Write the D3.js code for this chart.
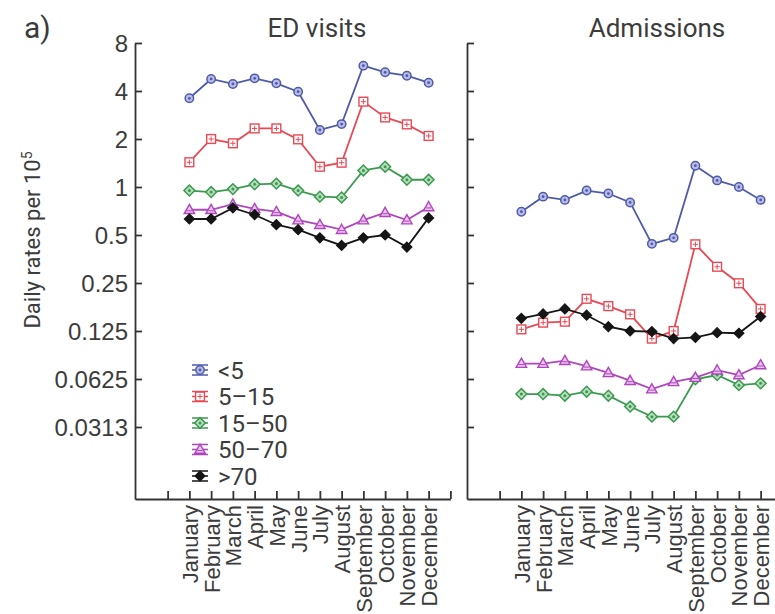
<!DOCTYPE html>
<html>
<head>
<meta charset="utf-8">
<script src="https://cdn.jsdelivr.net/npm/d3@7"></script>
<style>
  html, body { margin: 0; padding: 0; background: #fff; }
  svg { display: block; font-family: Roboto, "DejaVu Sans", sans-serif; }
</style>
</head>
<body>
<svg id="chart" width="775" height="614"></svg>
<script>
// Month labels and age groups
const months = ["January", "February", "March", "April", "May", "June",
  "July", "August", "September", "October", "November", "December"];
const ageGroups = ["<5", "5–15", "15–50", "50–70", ">70"];

// Log2 axis ticks
const yTickValues = [8, 4, 2, 1, 0.5, 0.25, 0.125, 0.0625, 0.03125];
const yTickLabels = ["8", "4", "2", "1", "0.5", "0.25", "0.125", "0.0625", "0.0313"];

// ED visits, daily rates per 10^5, by age group
const edUnder5  = [3.60, 4.76, 4.43, 4.80, 4.47, 3.96, 2.28, 2.48, 5.77, 5.24, 4.99, 4.51];
const ed5to15   = [1.43, 2.00, 1.88, 2.33, 2.33, 1.99, 1.34, 1.42, 3.43, 2.73, 2.47, 2.09];
const ed15to50  = [0.95, 0.93, 0.97, 1.04, 1.05, 0.95, 0.87, 0.86, 1.27, 1.34, 1.11, 1.11];
const ed50to70  = [0.72, 0.72, 0.78, 0.73, 0.70, 0.62, 0.58, 0.54, 0.62, 0.69, 0.62, 0.75];
const edOver70  = [0.63, 0.63, 0.74, 0.67, 0.58, 0.54, 0.48, 0.43, 0.48, 0.50, 0.42, 0.64];

// Admissions, daily rates per 10^5, by age group
const admUnder5 = [0.70, 0.87, 0.83, 0.95, 0.91, 0.80, 0.44, 0.48, 1.36, 1.10, 1.00, 0.83];
const adm5to15  = [0.128, 0.141, 0.143, 0.199, 0.179, 0.159, 0.112, 0.125, 0.437, 0.316, 0.249, 0.172];
const adm15to50 = [0.0503, 0.0503, 0.0491, 0.052, 0.0491, 0.042, 0.0363, 0.0363, 0.0622, 0.0662, 0.0572, 0.0587];
const adm50to70 = [0.0781, 0.0781, 0.0814, 0.0753, 0.0683, 0.061, 0.054, 0.060, 0.0638, 0.071, 0.0662, 0.0765];
const admOver70 = [0.150, 0.160, 0.172, 0.157, 0.133, 0.125, 0.124, 0.112, 0.114, 0.122, 0.121, 0.154];

const seriesColors = ["#4f5aab", "#e84a55", "#3b9a4e", "#b046bd", "#151515"];
const markerFills  = ["#b9bde6", "#ffffff", "#b8ddbf", "#ffffff", "#151515"];
const markerTypes  = ["circle", "square", "diamond", "triangle", "filledDiamond"];

const panels = [
  { title: "ED visits",  series: [edUnder5, ed5to15, ed15to50, ed50to70, edOver70],
    left: 135, showLabels: true, titleX: 317 },
  { title: "Admissions", series: [admUnder5, adm5to15, adm15to50, adm50to70, admOver70],
    left: 467, showLabels: false, titleX: 657 }
];

const svg = d3.select("#chart");
const axisColor = "#333";
const textColor = "#3c3c3c";
const plotTop = 43, plotBottom = 499, step = 21.75;

const y = d3.scaleLog().base(2).domain([Math.pow(2, -6.5), 8]).range([plotBottom, plotTop]);

function drawMarker(g, type, color, fill, cx, cy) {
  const m = g.append("g").attr("transform", `translate(${cx},${cy})`);
  if (type === "circle") {
    m.append("circle").attr("r", 4.2).attr("fill", fill).attr("stroke", color).attr("stroke-width", 1.5);
    m.append("circle").attr("r", 1.4).attr("fill", color);
  } else if (type === "square") {
    m.append("rect").attr("x", -4.4).attr("y", -4.4).attr("width", 8.8).attr("height", 8.8)
      .attr("fill", fill).attr("stroke", color).attr("stroke-width", 1.4);
    m.append("path").attr("d", "M-2.6,0H2.6M0,-2.6V2.6").attr("stroke", color).attr("stroke-width", 1);
  } else if (type === "diamond") {
    m.append("path").attr("d", "M0,-5.4L5.4,0L0,5.4L-5.4,0Z")
      .attr("fill", fill).attr("stroke", color).attr("stroke-width", 1.5);
    m.append("circle").attr("r", 1.5).attr("fill", color);
  } else if (type === "triangle") {
    m.append("path").attr("d", "M0,-5.4L5.2,3.8L-5.2,3.8Z")
      .attr("fill", "#e9c6ef").attr("stroke", color).attr("stroke-width", 1.4);
    m.append("path").attr("d", "M-2.6,1H2.6").attr("stroke", color).attr("stroke-width", 1);
  } else {
    m.append("path").attr("d", "M0,-5L5,0L0,5L-5,0Z")
      .attr("fill", fill).attr("stroke", color).attr("stroke-width", 1.2);
  }
}

panels.forEach(p => {
  const x = d3.scaleLinear().domain([-1.5, 13]).range([p.left, p.left + 14.5 * step]);
  const g = svg.append("g");

  // y axis, ticks pointing inward
  const yAxis = d3.axisLeft(y).tickValues(yTickValues)
    .tickSizeInner(-7).tickSizeOuter(0).tickPadding(7)
    .tickFormat((d, i) => p.showLabels ? yTickLabels[i] : "");
  const ya = g.append("g").attr("transform", `translate(${p.left},0)`).call(yAxis);
  ya.select(".domain").attr("stroke", axisColor).attr("stroke-width", 1.8);
  ya.selectAll(".tick line").attr("stroke", axisColor).attr("stroke-width", 1.8);
  ya.selectAll(".tick text").attr("fill", textColor)
    .style("font-size", "24px").attr("dy", "0.36em");

  // x axis with month labels
  const xAxis = d3.axisBottom(x).tickValues(d3.range(0, 14))
    .tickSizeInner(-8).tickSizeOuter(0)
    .tickFormat(d => months[d - 1] || "");
  const xa = g.append("g").attr("transform", `translate(0,${plotBottom})`).call(xAxis);
  xa.select(".domain").attr("stroke", axisColor).attr("stroke-width", 1.8);
  xa.selectAll(".tick line").attr("stroke", axisColor).attr("stroke-width", 1.8);
  xa.selectAll(".tick text")
    .attr("fill", textColor).style("font-size", "22px")
    .attr("transform", "rotate(-90)")
    .attr("x", -6).attr("y", 0).attr("dy", "0.36em")
    .style("text-anchor", "end");

  // panel title
  svg.append("text").attr("x", p.titleX).attr("y", 37)
    .attr("text-anchor", "middle").attr("fill", textColor)
    .style("font-size", "26px").text(p.title);

  // series lines and markers
  const line = d3.line().x((d, i) => x(i + 1)).y(d => y(d));
  p.series.forEach((vals, si) => {
    g.append("path").datum(vals).attr("d", line)
      .attr("fill", "none").attr("stroke", seriesColors[si]).attr("stroke-width", 1.8);
    vals.forEach((v, i) => drawMarker(g, markerTypes[si], seriesColors[si], markerFills[si], x(i + 1), y(v)));
  });
});

// y axis title
const yTitle = svg.append("text")
  .attr("transform", "translate(40,240) rotate(-90)")
  .attr("text-anchor", "middle").attr("fill", textColor)
  .style("font-size", "22px");
yTitle.append("tspan").text("Daily rates per 10");
yTitle.append("tspan").attr("dy", "-0.55em").style("font-size", "14px").text("5");

// panel letter
svg.append("text").attr("x", 24).attr("y", 38).attr("fill", textColor)
  .style("font-size", "30px").text("a)");

// legend
const legend = svg.append("g");
ageGroups.forEach((name, i) => {
  const cy = 370 + i * 26.5, cx = 200;
  const c = seriesColors[i];
  legend.append("path")
    .attr("d", `M${cx - 8},${cy - 5}H${cx + 8}M${cx - 8},${cy}H${cx + 8}M${cx - 8},${cy + 5}H${cx + 8}M${cx},${cy - 5}V${cy + 5}`)
    .attr("stroke", c).attr("stroke-width", 1.4).attr("fill", "none");
  drawMarker(legend, markerTypes[i], c, markerFills[i], cx, cy);
  legend.append("text").attr("x", 218).attr("y", cy).attr("dy", "0.36em")
    .attr("fill", textColor).style("font-size", "24px").text(name);
});
</script>
</body>
</html>
